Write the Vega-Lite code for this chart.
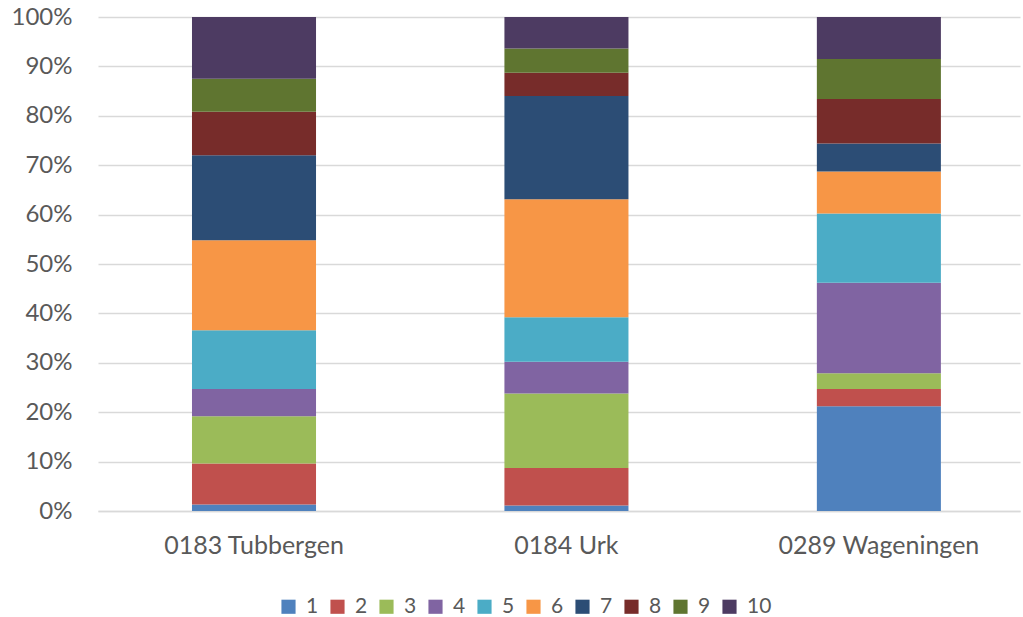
{
  "$schema": "https://vega.github.io/schema/vega-lite/v6.json",
  "autosize": "none",
  "width": 922,
  "height": 494,
  "padding": {"left": 98, "top": 17, "right": 3, "bottom": 106},
  "background": "white",
  "data": {
    "values": [
      {"gemeente": "0183 Tubbergen", "s": 1, "v": 1.3},
      {"gemeente": "0183 Tubbergen", "s": 2, "v": 8.3},
      {"gemeente": "0183 Tubbergen", "s": 3, "v": 9.6},
      {"gemeente": "0183 Tubbergen", "s": 4, "v": 5.5},
      {"gemeente": "0183 Tubbergen", "s": 5, "v": 11.9},
      {"gemeente": "0183 Tubbergen", "s": 6, "v": 18.2},
      {"gemeente": "0183 Tubbergen", "s": 7, "v": 17.2},
      {"gemeente": "0183 Tubbergen", "s": 8, "v": 8.8},
      {"gemeente": "0183 Tubbergen", "s": 9, "v": 6.7},
      {"gemeente": "0183 Tubbergen", "s": 10, "v": 12.5},
      {"gemeente": "0184 Urk", "s": 1, "v": 1.1},
      {"gemeente": "0184 Urk", "s": 2, "v": 7.6},
      {"gemeente": "0184 Urk", "s": 3, "v": 15.1},
      {"gemeente": "0184 Urk", "s": 4, "v": 6.4},
      {"gemeente": "0184 Urk", "s": 5, "v": 9.0},
      {"gemeente": "0184 Urk", "s": 6, "v": 23.9},
      {"gemeente": "0184 Urk", "s": 7, "v": 20.9},
      {"gemeente": "0184 Urk", "s": 8, "v": 4.7},
      {"gemeente": "0184 Urk", "s": 9, "v": 4.9},
      {"gemeente": "0184 Urk", "s": 10, "v": 6.4},
      {"gemeente": "0289 Wageningen", "s": 1, "v": 21.2},
      {"gemeente": "0289 Wageningen", "s": 2, "v": 3.5},
      {"gemeente": "0289 Wageningen", "s": 3, "v": 3.2},
      {"gemeente": "0289 Wageningen", "s": 4, "v": 18.3},
      {"gemeente": "0289 Wageningen", "s": 5, "v": 14.0},
      {"gemeente": "0289 Wageningen", "s": 6, "v": 8.5},
      {"gemeente": "0289 Wageningen", "s": 7, "v": 5.7},
      {"gemeente": "0289 Wageningen", "s": 8, "v": 9.0},
      {"gemeente": "0289 Wageningen", "s": 9, "v": 8.1},
      {"gemeente": "0289 Wageningen", "s": 10, "v": 8.5}
    ]
  },
  "mark": {"type": "bar"},
  "encoding": {
    "x": {
      "field": "gemeente",
      "type": "nominal",
      "sort": null,
      "title": null,
      "scale": {"paddingInner": 0.603, "paddingOuter": 0.277, "align": 0.543},
      "axis": {
        "labelAngle": 0,
        "ticks": false,
        "domain": true,
        "domainColor": "#d9d9d9",
        "domainWidth": 1.5,
        "labelFont": "Lato",
        "labelFontSize": 25,
        "labelLimit": 0,
        "labelColor": "#595959",
        "labelPadding": 22
      }
    },
    "y": {
      "field": "v",
      "type": "quantitative",
      "stack": "normalize",
      "title": null,
      "scale": {"domain": [0, 1], "nice": false},
      "axis": {
        "format": ".0%",
        "values": [0, 0.1, 0.2, 0.3, 0.4, 0.5, 0.6, 0.7, 0.8, 0.9, 1],
        "ticks": false,
        "domain": false,
        "grid": true,
        "gridColor": "#d9d9d9",
        "gridWidth": 1.5,
        "labelFont": "Lato",
        "labelFontSize": 24,
        "labelColor": "#595959",
        "labelPadding": 26
      }
    },
    "color": {
      "field": "s",
      "type": "nominal",
      "title": null,
      "scale": {
        "domain": [1, 2, 3, 4, 5, 6, 7, 8, 9, 10],
        "range": ["#4F81BD", "#C0504D", "#9BBB59", "#8064A2", "#4BACC6", "#F79646", "#2C4D75", "#772C2A", "#5F7530", "#4D3B62"]
      },
      "legend": {
        "orient": "none",
        "legendX": 180,
        "legendY": 579,
        "direction": "horizontal",
        "columns": 10,
        "columnPadding": 8,
        "symbolType": "square",
        "symbolSize": 200,
        "symbolStrokeWidth": 0,
        "labelOffset": 7,
        "labelFont": "Lato",
        "labelFontSize": 21,
        "labelColor": "#595959"
      }
    },
    "order": {"field": "s", "type": "quantitative", "sort": "ascending"}
  },
  "config": {
    "view": {"stroke": null}
  }
}
